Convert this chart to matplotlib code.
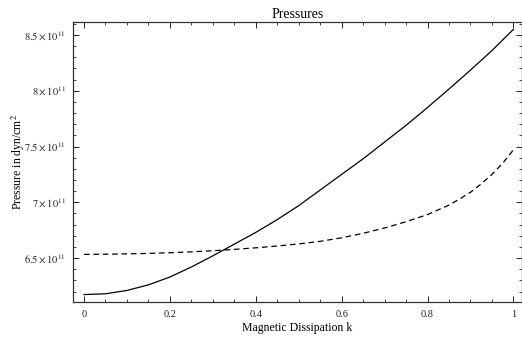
import matplotlib
matplotlib.use("Agg")
import matplotlib.pyplot as plt
from matplotlib.ticker import MultipleLocator, FuncFormatter

plt.rcParams['font.family'] = ['Liberation Serif', 'DejaVu Serif']
plt.rcParams['mathtext.fontset'] = 'stix'

k_solid = [0, 0.05, 0.1, 0.15, 0.2, 0.25, 0.3, 0.35, 0.4, 0.45, 0.5,
           0.55, 0.6, 0.65, 0.7, 0.75, 0.8, 0.85, 0.9, 0.95, 1.0]
p_solid = [6.173, 6.180, 6.21, 6.26, 6.33, 6.42, 6.52, 6.625, 6.73, 6.845, 6.97,
           7.11, 7.25, 7.39, 7.54, 7.69, 7.85, 8.015, 8.185, 8.36, 8.55]
k_dash = [0, 0.05, 0.1, 0.15, 0.2, 0.25, 0.3, 0.35, 0.4, 0.45, 0.5,
          0.55, 0.6, 0.65, 0.7, 0.75, 0.8, 0.85, 0.875, 0.9, 0.925, 0.95, 0.975, 1.0]
p_dash = [6.533, 6.535, 6.538, 6.542, 6.548, 6.556, 6.566, 6.578, 6.592, 6.608, 6.627,
          6.65, 6.682, 6.722, 6.77, 6.826, 6.89, 6.975, 7.03, 7.09, 7.165, 7.25, 7.35, 7.47]
scale = 1e11

title = "Pressures"
xlabel = "Magnetic Dissipation k"
ylabel = "Pressure in dyn/cm$^2$"

fig = plt.figure(figsize=(5.22, 3.37), dpi=100)
ax = fig.add_axes([73/522, 35.4/337, 449/522, 279.6/337])

ax.plot(k_solid, [v*scale for v in p_solid], color='black', lw=0.9)
ax.plot(k_dash, [v*scale for v in p_dash], color='black', lw=0.9, dashes=(4.5, 3))

ax.set_xlim(-0.0256, 1.02)
ax.set_ylim(6.11e11, 8.616e11)

ax.xaxis.set_major_locator(MultipleLocator(0.2))
ax.xaxis.set_minor_locator(MultipleLocator(0.05))
ax.yaxis.set_major_locator(MultipleLocator(0.5e11))
ax.yaxis.set_minor_locator(MultipleLocator(0.1e11))

def xfmt(v, pos):
    if abs(v) < 1e-9:
        return "0"
    if abs(v-1) < 1e-9:
        return "1"
    return f"{v:.1f}"

def yfmt(v, pos):
    m = v/1e11
    s = f"{m:g}"
    return r"$%s\times10^{11}$" % s

ax.xaxis.set_major_formatter(FuncFormatter(xfmt))
ax.yaxis.set_major_formatter(FuncFormatter(yfmt))

ax.tick_params(which='both', direction='in', top=True, right=True, labelsize=7.5, colors='#222222')
ax.tick_params(which='major', length=4, width=0.7)
ax.tick_params(which='minor', length=2, width=0.6)
ax.tick_params(axis='x', pad=6)
ax.tick_params(axis='y', pad=5)
for s in ax.spines.values():
    s.set_linewidth(0.9)
    s.set_color('#333333')

ax.set_title(title, fontsize=10, pad=3)
ax.set_xlabel(xlabel, fontsize=8.5, labelpad=2)
ax.set_ylabel(ylabel, fontsize=8.5, labelpad=-2)

fig.savefig("out.png", dpi=100)
